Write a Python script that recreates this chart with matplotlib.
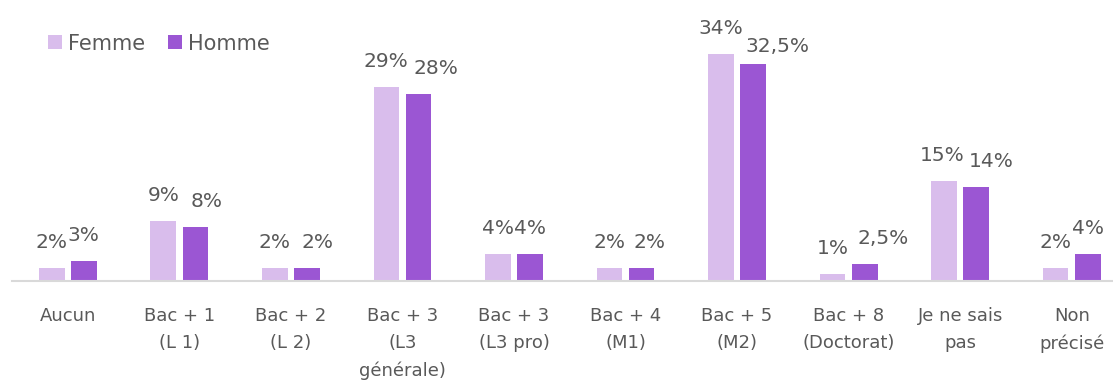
import numpy as np
import matplotlib.pyplot as plt

categories = ["Aucun", "Bac + 1\n(L 1)", "Bac + 2\n(L 2)", "Bac + 3\n(L3\ngénérale)",
              "Bac + 3\n(L3 pro)", "Bac + 4\n(M1)", "Bac + 5\n(M2)",
              "Bac + 8\n(Doctorat)", "Je ne sais\npas", "Non\nprécisé"]
femme = [2, 9, 2, 29, 4, 2, 34, 1, 15, 2]
homme = [3, 8, 2, 28, 4, 2, 32.5, 2.5, 14, 4]
femme_labels = ["2%", "9%", "2%", "29%", "4%", "2%", "34%", "1%", "15%", "2%"]
homme_labels = ["3%", "8%", "2%", "28%", "4%", "2%", "32,5%", "2,5%", "14%", "4%"]

# label nudges (pixels) so neighbouring labels don't collide, as in the original
femme_dx = [0, 0, 0, 0, 0, 0, 0, 0, -2, 0]
homme_dx = [0, 11, 11, 17, 0, 8, 24, 18, 15, 0]
homme_dy = [0, 0, 0, 0, 0, 0, -8, 0, 0, 0]

col_f = "#D9BDEC"
col_h = "#9B56D3"
txt = "#595959"

fig = plt.figure(figsize=(11.13, 3.85), dpi=100)
ax = fig.add_axes([12 / 1113, 104 / 385, 1 - 12 / 1113, 281 / 385])

x = np.arange(len(categories))
w = 0.23
bf = ax.bar(x - 0.144, femme, w, color=col_f, label="Femme")
bh = ax.bar(x + 0.144, homme, w, color=col_h, label="Homme")

px = 0.72  # points per pixel at 100 dpi
for bars, labs, dxs, dys in ((bf, femme_labels, femme_dx, [0] * 10),
                             (bh, homme_labels, homme_dx, homme_dy)):
    for b, lab, dx, dy in zip(bars, labs, dxs, dys):
        ax.annotate(lab, (b.get_x() + b.get_width() / 2, b.get_height()),
                    xytext=(dx * px, (25.5 + dy) * px), textcoords="offset points",
                    ha="center", va="center", fontsize=14.5, color=txt)

ax.set_xlim(-0.5, 9.37)
ax.set_ylim(0, 42)
ax.set_xticks(x)
ax.set_xticklabels(categories, fontsize=13, color=txt, linespacing=1.65, va="top")
ax.tick_params(axis="x", length=0, pad=19)
ax.set_yticks([])
for s in ["top", "right", "left"]:
    ax.spines[s].set_visible(False)
ax.spines["bottom"].set_color("#D9D9D9")
ax.spines["bottom"].set_linewidth(1.5)

fig.legend(loc="center left", bbox_to_anchor=(48 / 1113, 1 - 43.5 / 385), ncol=2,
           frameon=False, fontsize=15, labelcolor=txt, handlelength=0.67,
           handleheight=0.67, handletextpad=0.3, columnspacing=1.1,
           borderpad=0, borderaxespad=0)

fig.savefig("out.png", dpi=100)
